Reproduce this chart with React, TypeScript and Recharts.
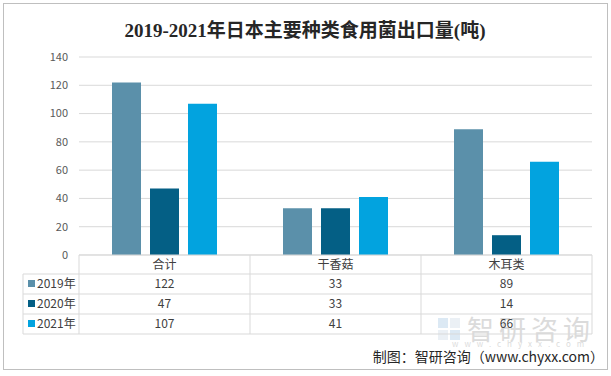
import { BarChart, Bar, XAxis, YAxis, CartesianGrid } from 'recharts';

const categories = ['合计', '干香菇', '木耳类'];
const years = ['2019年', '2020年', '2021年'];
const v2019 = [122, 33, 89];
const v2020 = [47, 33, 14];
const v2021 = [107, 41, 66];
const yTicks = [0, 20, 40, 60, 80, 100, 120, 140];

const colors = ['#5b90aa', '#045f85', '#02a3df'];
const seriesValues = [v2019, v2020, v2021];

const data = categories.map((name, i) => ({ name, y2019: v2019[i], y2020: v2020[i], y2021: v2021[i] }));

const W = 611;
const H = 376;
const PLOT_LEFT = 79;
const PLOT_RIGHT = 592;
const BAND = (PLOT_RIGHT - PLOT_LEFT) / categories.length;
const ROW_LINES = [274, 294, 314, 334];
const ROW_TEXT = [288, 308, 328];
const FONT = '"Noto Sans CJK SC", "Noto Sans", sans-serif';

function TableTick(props: any) {
  const { x, y, payload } = props;
  const i = payload.index;
  return (
    <g>
      <text x={x} y={y + 14} textAnchor="middle" fontSize={12} fill="#404040" fontFamily={FONT}>{categories[i]}</text>
      {seriesValues.map((vals, r) => (
        <text key={r} x={x} y={ROW_TEXT[r]} textAnchor="middle" fontSize={12} fill="#404040" fontFamily={FONT}>{vals[i]}</text>
      ))}
      <line x1={x + BAND / 2} x2={x + BAND / 2} y1={y} y2={ROW_LINES[3]} stroke="#d9d9d9" />
      {i === 0 && <line x1={x - BAND / 2} x2={x - BAND / 2} y1={y} y2={ROW_LINES[3]} stroke="#d9d9d9" />}
    </g>
  );
}

export default function App() {
  return (
    <div style={{ position: 'absolute', left: 0, top: 0, width: W, height: H, background: '#fff' }}>
      <svg width={W} height={H} style={{ position: 'absolute', left: 0, top: 0 }}>
        <rect x={3.5} y={3.5} width={604} height={366} fill="#fff" stroke="#bfbfbf" />
        <text x={305} y={37} textAnchor="middle" fontSize={19} fontWeight="bold" fill="#262626" fontFamily={'"Liberation Serif", "Noto Sans CJK SC", serif'}>
          2019-2021年日本主要种类食用菌出口量(吨)
        </text>
        {/* watermark */}
        <g opacity={0.35}>
          <rect x={438} y={318} width={10} height={10} fill="#9cc3e0" />
          <rect x={450} y={318} width={10} height={10} fill="#c8d7e3" />
          <rect x={438} y={330} width={10} height={10} fill="#c8d7e3" />
          <rect x={450} y={330} width={10} height={10} fill="#9cc3e0" />
          <text x={467} y={340} fontSize={27} fill="#9a9a9a" fontFamily={FONT} letterSpacing={5}>智研咨询</text>
          <text x={452} y={347} fontSize={8} fill="#9a9a9a" fontFamily={FONT} letterSpacing={6}>www.chyxx.com</text>
        </g>
        {ROW_LINES.map((ly) => (
          <line key={ly} x1={23} x2={PLOT_RIGHT} y1={ly} y2={ly} stroke="#d9d9d9" />
        ))}
        <line x1={23} x2={23} y1={ROW_LINES[0]} y2={ROW_LINES[3]} stroke="#d9d9d9" />
        {years.map((yr, r) => (
          <g key={yr}>
            <rect x={28} y={ROW_TEXT[r] - 8} width={7} height={7} fill={colors[r]} />
            <text x={37} y={ROW_TEXT[r]} fontSize={12} fill="#404040" fontFamily={FONT}>{yr}</text>
          </g>
        ))}
        <text x={604} y={362} textAnchor="end" fontSize={14} fill="#262626" fontFamily={FONT}>制图：智研咨询（www.chyxx.com）</text>
      </svg>
      <div style={{ position: 'absolute', left: 0, top: 0 }}>
        <BarChart width={W} height={H} data={data} margin={{ top: 57, right: W - PLOT_RIGHT, left: 0, bottom: 21 }} barSize={29} barGap={9}>
          <CartesianGrid vertical={false} stroke="#d9d9d9" />
          <YAxis
            width={PLOT_LEFT}
            domain={[0, 140]}
            ticks={yTicks}
            axisLine={false}
            tickLine={false}
            tickMargin={5}
            interval={0}
            tick={{ fill: '#595959', fontSize: 11, fontFamily: FONT }}
          />
          <XAxis
            dataKey="name"
            height={100}
            axisLine={{ stroke: '#d9d9d9' }}
            tickLine={false}
            tickSize={0}
            tickMargin={0}
            interval={0}
            tick={<TableTick />}
          />
          <Bar dataKey="y2019" fill={colors[0]} isAnimationActive={false} />
          <Bar dataKey="y2020" fill={colors[1]} isAnimationActive={false} />
          <Bar dataKey="y2021" fill={colors[2]} isAnimationActive={false} />
        </BarChart>
      </div>
    </div>
  );
}
